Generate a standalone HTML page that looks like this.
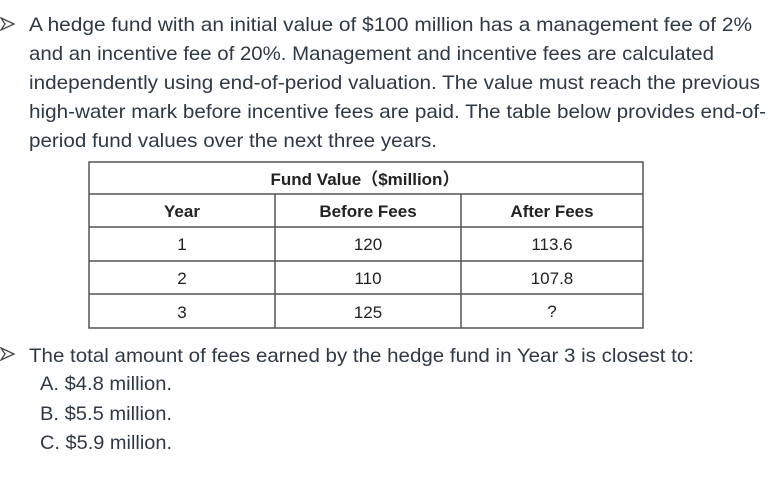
<!DOCTYPE html>
<html><head><meta charset="utf-8"><style>
html,body{margin:0;padding:0;background:#fff;width:776px;height:484px;overflow:hidden}
svg{display:block}
.t{font-family:"Liberation Sans","Noto Sans CJK SC",sans-serif;font-size:19.5px;fill:#2f3945}
.h{font-family:"Liberation Sans","Noto Sans CJK SC",sans-serif;font-size:17px;font-weight:bold;fill:#222}
.c{font-family:"Liberation Sans","Noto Sans CJK SC",sans-serif;font-size:17px;fill:#222}
</style></head><body>
<svg width="776" height="484" viewBox="0 0 776 484">
<g fill="none" stroke="#444" stroke-width="1.3">
<path d="M1 18 L14 24 L1 30 L5 24 Z"/>
<path d="M1 348 L14 354 L1 360 L5 354 Z"/>
</g>
<text class="t" x="29" y="31" textLength="723" lengthAdjust="spacingAndGlyphs">A hedge fund with an initial value of $100 million has a management fee of 2%</text>
<text class="t" x="29" y="60" textLength="685" lengthAdjust="spacingAndGlyphs">and an incentive fee of 20%. Management and incentive fees are calculated</text>
<text class="t" x="29" y="89" textLength="731" lengthAdjust="spacingAndGlyphs">independently using end-of-period valuation. The value must reach the previous</text>
<text class="t" x="29" y="118" textLength="737" lengthAdjust="spacingAndGlyphs">high-water mark before incentive fees are paid. The table below provides end-of-</text>
<text class="t" x="29" y="147" textLength="408" lengthAdjust="spacingAndGlyphs">period fund values over the next three years.</text>
<g stroke="#555" stroke-width="1.5" fill="none">
<rect x="89" y="162" width="554" height="166"/>
<line x1="89" y1="194" x2="643" y2="194"/>
<line x1="89" y1="227" x2="643" y2="227"/>
<line x1="89" y1="261" x2="643" y2="261"/>
<line x1="89" y1="294" x2="643" y2="294"/>
<line x1="275" y1="194" x2="275" y2="328"/>
<line x1="461" y1="194" x2="461" y2="328"/>
</g>
<text class="h" x="365" y="185" text-anchor="middle">Fund Value（$million）</text>
<text class="h" x="182" y="217" text-anchor="middle">Year</text>
<text class="h" x="368" y="217" text-anchor="middle">Before Fees</text>
<text class="h" x="552" y="217" text-anchor="middle">After Fees</text>
<text class="c" x="182" y="250" text-anchor="middle">1</text>
<text class="c" x="368" y="250" text-anchor="middle">120</text>
<text class="c" x="552" y="250" text-anchor="middle">113.6</text>
<text class="c" x="182" y="284" text-anchor="middle">2</text>
<text class="c" x="368" y="284" text-anchor="middle">110</text>
<text class="c" x="552" y="284" text-anchor="middle">107.8</text>
<text class="c" x="182" y="318" text-anchor="middle">3</text>
<text class="c" x="368" y="318" text-anchor="middle">125</text>
<text class="c" x="552" y="317" text-anchor="middle">?</text>
<text class="t" x="29" y="362" textLength="665" lengthAdjust="spacingAndGlyphs">The total amount of fees earned by the hedge fund in Year 3 is closest to:</text>
<text class="t" x="40" y="390" textLength="132" lengthAdjust="spacingAndGlyphs">A. $4.8 million.</text>
<text class="t" x="40" y="420" textLength="132" lengthAdjust="spacingAndGlyphs">B.  $5.5 million.</text>
<text class="t" x="40" y="449" textLength="132" lengthAdjust="spacingAndGlyphs">C.  $5.9 million.</text>
</svg>
</body></html>
